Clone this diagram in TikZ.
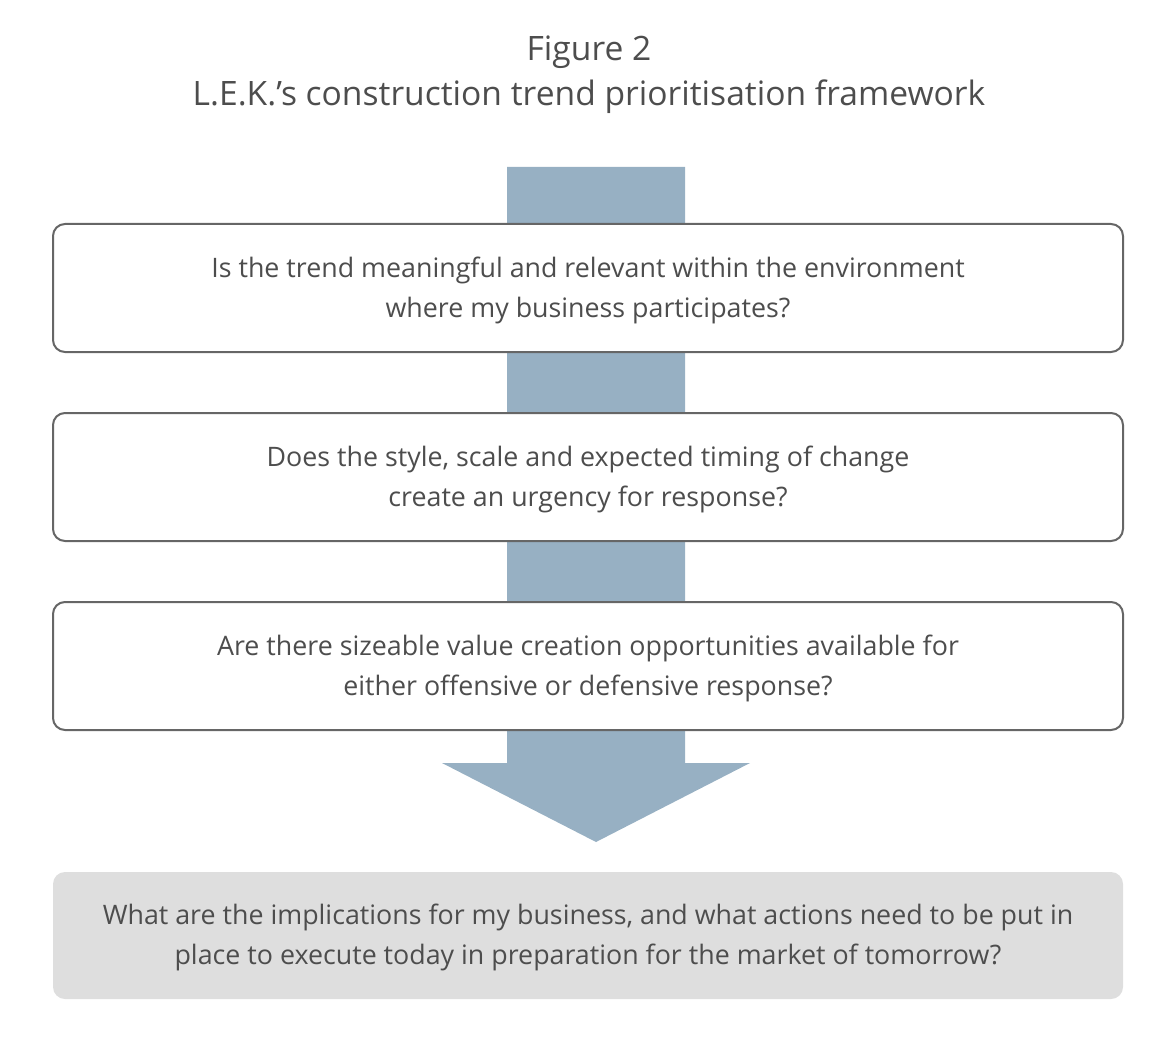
\documentclass[tikz,border=0pt]{standalone}
\usepackage{fontspec}
\setmainfont{Open Sans}
\definecolor{txt}{HTML}{4D4D4D}
\definecolor{arrowblue}{HTML}{97B0C3}
\definecolor{boxline}{HTML}{666666}
\definecolor{greybox}{HTML}{DEDEDE}
\begin{document}
\begin{tikzpicture}[x=1pt,y=-1pt,
  qbox/.style={draw=boxline,line width=2pt,fill=white,rounded corners=12pt,
    minimum width=1070pt,minimum height=128pt,inner sep=0pt},
  gbox/.style={fill=greybox,rounded corners=12pt,
    minimum width=1070pt,minimum height=127pt,inner sep=0pt},
  qtext/.style={text=txt,align=center,font=\fontsize{26.8}{40}\selectfont},
  titlestyle/.style={text=txt,align=center,font=\fontsize{33.6}{45}\selectfont}]
\useasboundingbox (0,0) rectangle (1174,1059);
\node[titlestyle] (title) at (589,75) {Figure 2\\L.E.K.’s construction trend prioritisation framework};
% arrow
\fill[arrowblue] (507,167) -- (685,167) -- (685,763) -- (750,763) -- (596,842) -- (442,763) -- (507,763) -- cycle;
\node[qbox] (q1) at (588,288) {};
\node[qbox] (q2) at (588,477) {};
\node[qbox] (q3) at (588,666) {};
\node[gbox] (q4) at (588,935.5) {};
\node[qtext] (t1) at ([yshift=-2pt]q1.center) {Is the trend meaningful and relevant within the environment\\where my business participates?};
\node[qtext] (t2) at ([yshift=-2pt]q2.center) {Does the style, scale and expected timing of change\\create an urgency for response?};
\node[qtext] (t3) at ([yshift=-2pt]q3.center) {Are there sizeable value creation opportunities available for\\either offensive or defensive response?};
\node[qtext] (t4) at ([yshift=-2pt]q4.center) {What are the implications for my business, and what actions need to be put in\\place to execute today in preparation for the market of tomorrow?};
\end{tikzpicture}
\end{document}
